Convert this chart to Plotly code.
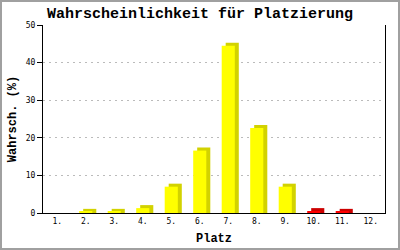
import plotly.graph_objects as go

places = ["1.", "2.", "3.", "4.", "5.", "6.", "7.", "8.", "9.", "10.", "11.", "12."]
probabilities = [0, 0.3, 0.3, 1.3, 7.0, 16.6, 44.5, 22.6, 7.0, 0.5, 0.3, 0]
front_colors = ["#ffff00"] * 9 + ["#ff0000"] * 2 + ["#ff0000"]
side_colors = ["#d2d200"] * 9 + ["#cc0000"] * 2 + ["#cc0000"]

BAR_W = 0.46
DX = 0.14   # depth offset in category units
DY = 0.8    # depth offset in value units

xs = list(range(len(places)))
shadow_y = [v + DY if v > 0 else None for v in probabilities]
front_y = [v if v > 0 else None for v in probabilities]

fig = go.Figure()
fig.add_trace(go.Bar(x=xs, y=shadow_y, base=0, width=BAR_W, offset=-BAR_W / 2 + DX,
                     marker=dict(color=side_colors, line=dict(width=0)),
                     hoverinfo="skip", showlegend=False))
fig.add_trace(go.Bar(x=xs, y=front_y, width=BAR_W, offset=-BAR_W / 2,
                     marker=dict(color=front_colors, line=dict(width=0)),
                     showlegend=False))

L, R, T, B = 43, 15, 25, 37
W, H = 400, 250
pw, ph = W - L - R, H - T - B

fig.update_layout(
    width=W, height=H,
    margin=dict(l=L, r=R, t=T, b=B, autoexpand=False),
    paper_bgcolor="white", plot_bgcolor="white",
    barmode="overlay",
    font=dict(family="DejaVu Sans Mono, Liberation Mono, monospace", color="black"),
    title=dict(text="<b>Wahrscheinlichkeit für Platzierung</b>",
               font=dict(size=15, family="Liberation Mono, monospace", color="black"),
               x=0.5, xref="container", xanchor="center",
               y=1 - 13 / H, yref="container", yanchor="middle"),
    xaxis=dict(tickmode="array", tickvals=xs, ticktext=places,
               range=[-0.5, len(places) - 0.5], automargin=False,
               showline=True, linecolor="black", linewidth=1,
               showgrid=False, ticks="", zeroline=False,
               tickfont=dict(size=8),
               title=dict(text="<b>Platz</b>", font=dict(size=12,
                          family="Liberation Mono, monospace"), standoff=9)),
    yaxis=dict(range=[0, 50], tickvals=[0, 10, 20, 30, 40, 50], automargin=False,
               showline=True, linecolor="black", linewidth=1, mirror=True,
               ticks="outside", ticklen=5, tickwidth=1, tickcolor="black",
               showgrid=True, gridcolor="#bbbbbb", griddash="2px,4px", gridwidth=1,
               zeroline=False, tickfont=dict(size=8),
               title=dict(text="<b>Wahrsch. (%)</b>", font=dict(size=12,
                          family="Liberation Mono, monospace"), standoff=6)),
    shapes=[dict(type="rect", xref="paper", yref="paper",
                 x0=(1 - L) / pw, x1=(W - 1 - L) / pw,
                 y0=(T + ph - (H - 1)) / ph, y1=(T + ph - 1) / ph,
                 line=dict(color="#a0a0a0", width=2), layer="below")],
)

fig.write_html("out.html")
